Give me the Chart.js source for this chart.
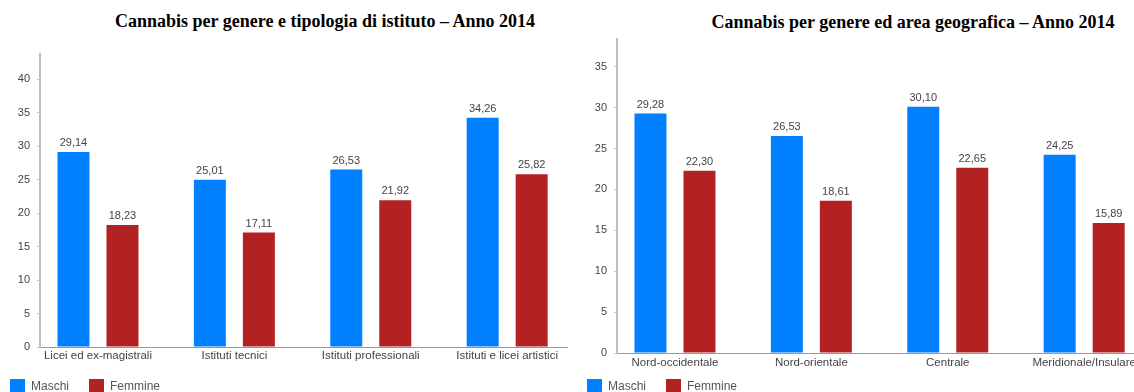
<!DOCTYPE html>
<html>
<head>
<meta charset="utf-8">
<script src="https://cdn.jsdelivr.net/npm/chart.js@4.4.1/dist/chart.umd.min.js"></script>
<style>
  html, body { margin: 0; padding: 0; width: 1134px; height: 392px; overflow: hidden; background: #fff; }
  body { position: relative; }
  .title { position: absolute; font: bold 18px "Liberation Serif", "Times New Roman", serif; line-height: 18px; color: #000; white-space: nowrap; transform: translateX(-50%); }
  .wrap { position: absolute; top: 0; width: 578px; height: 404px; }
  canvas { display: block; }
</style>
</head>
<body>
<div class="title" style="left:325px; top:12px;">Cannabis per genere e tipologia di istituto – Anno 2014</div>
<div class="title" style="left:913px; top:13px;">Cannabis per genere ed area geografica – Anno 2014</div>
<div class="wrap" style="left:-10px;"><canvas id="c1" width="578" height="404"></canvas></div>
<div class="wrap" style="left:567px;"><canvas id="c2" width="578" height="404"></canvas></div>
<script>
// ---- data ----
const seriesNames = ['Maschi', 'Femmine'];
const seriesColors = ['#0080ff', '#b22222'];

const categoriesIstituto = ['Licei ed ex-magistrali', 'Istituti tecnici', 'Istituti professionali', 'Istituti e licei artistici'];
const maschiIstituto = [29.14, 25.01, 26.53, 34.26];
const femmineIstituto = [18.23, 17.11, 21.92, 25.82];

const categoriesArea = ['Nord-occidentale', 'Nord-orientale', 'Centrale', 'Meridionale/Insulare'];
const maschiArea = [29.28, 26.53, 30.10, 24.25];
const femmineArea = [22.30, 18.61, 22.65, 15.89];

// ---- chart setup ----
Chart.defaults.font.family = '"Liberation Sans", Arial, sans-serif';
Chart.defaults.color = '#4d4d4d';

const valueLabels = {
  id: 'valueLabels',
  afterDatasetsDraw(chart) {
    const ctx = chart.ctx;
    ctx.save();
    ctx.font = '11px "Liberation Sans", Arial, sans-serif';
    ctx.fillStyle = '#444';
    ctx.textAlign = 'center';
    ctx.textBaseline = 'middle';
    chart.data.datasets.forEach((ds, di) => {
      const meta = chart.getDatasetMeta(di);
      meta.data.forEach((bar, i) => {
        const v = ds.data[i].y;
        ctx.fillText(v.toFixed(2).replace('.', ','), bar.x, bar.y - 9);
      });
    });
    ctx.restore();
  }
};

function makeChart(id, categories, maschi, femmine, yMax, topPad, xAxisHeight, labelPad) {
  const series = [maschi, femmine];
  return new Chart(document.getElementById(id), {
    type: 'bar',
    data: {
      datasets: series.map((vals, s) => ({
        label: seriesNames[s],
        data: vals.map((v, i) => ({ x: i, y: v })),
        backgroundColor: seriesColors[s],
        borderWidth: 0,
        categoryPercentage: 0.7185,
        barPercentage: 0.653
      }))
    },
    options: {
      responsive: false,
      animation: false,
      layout: { padding: { top: topPad, left: 0, right: 0, bottom: 0 } },
      plugins: {
        legend: {
          position: 'bottom',
          align: 'start',
          labels: {
            boxWidth: 15,
            boxHeight: 15,
            padding: 20,
            color: '#555',
            font: { size: 12 }
          }
        },
        title: { display: false },
        tooltip: { enabled: false }
      },
      scales: {
        x: {
          type: 'linear',
          offset: false,
          min: -0.425,
          max: 3.446,
          grid: { display: false, drawTicks: false, offset: false },
          border: { display: true, color: '#9a9a9a', width: 1 },
          ticks: {
            stepSize: 1,
            includeBounds: false,
            autoSkip: false,
            maxRotation: 0,
            minRotation: 0,
            padding: labelPad,
            color: '#444',
            font: { size: 11.5 },
            callback: (v) => (Number.isInteger(v) && categories[v] !== undefined) ? categories[v] : ''
          },
          afterFit: (scale) => {
            scale.height = xAxisHeight;
            // let the category labels overflow the (short) axis box
            scale._computeLabelArea = () => undefined;
          }
        },
        y: {
          min: 0,
          max: yMax,
          grid: { display: true, drawOnChartArea: false, drawTicks: true, tickLength: 3, color: '#c8c8c8' },
          border: { display: true, color: '#bdbdbd', width: 2 },
          ticks: {
            stepSize: 5,
            includeBounds: false,
            padding: 7,
            color: '#444',
            font: { size: 11 }
          },
          afterFit: (scale) => { scale.width = 50; }
        }
      }
    },
    plugins: [valueLabels]
  });
}

makeChart('c1', categoriesIstituto, maschiIstituto, femmineIstituto, 43.8, 54, 12, 2);
makeChart('c2', categoriesArea, maschiArea, femmineArea, 38.4, 39, 6, 3);
</script>
</body>
</html>
